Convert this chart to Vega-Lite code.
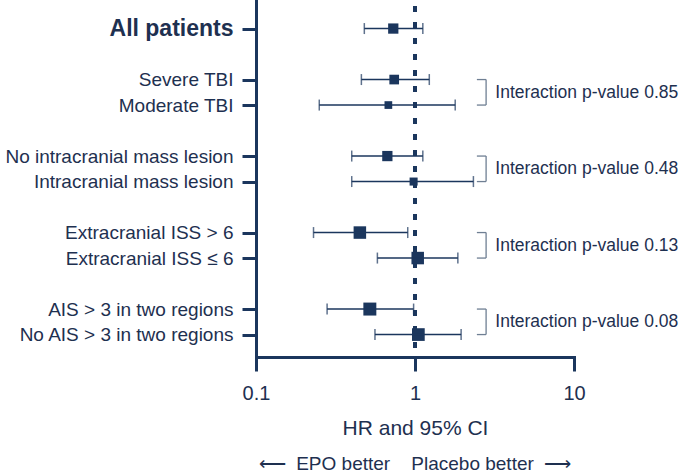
{
  "$schema": "https://vega.github.io/schema/vega-lite/v6.json",
  "width": 318,
  "height": 357,
  "autosize": {"type": "none"},
  "padding": {"left": 256, "top": 0, "right": 111, "bottom": 119},
  "background": "white",
  "config": {"view": {"stroke": null}, "font": "Liberation Sans"},
  "title": {
    "text": "⟵\u00a0\u00a0EPO better\u00a0\u00a0\u00a0\u00a0Placebo better\u00a0\u00a0⟶",
    "orient": "bottom",
    "anchor": "middle",
    "fontSize": 19,
    "fontWeight": "normal",
    "color": "#1e3050",
    "offset": 17
  },
  "datasets": {
    "rows": [
      {"label": "All patients", "hr": 0.73, "lo": 0.48, "hi": 1.12, "weight": 6.2},
      {"label": "Severe TBI", "hr": 0.74, "lo": 0.46, "hi": 1.23, "weight": 5.5},
      {"label": "Moderate TBI", "hr": 0.68, "lo": 0.25, "hi": 1.79, "weight": 3.5},
      {"label": "No intracranial mass lesion", "hr": 0.67, "lo": 0.40, "hi": 1.12, "weight": 6.2},
      {"label": "Intracranial mass lesion", "hr": 0.98, "lo": 0.40, "hi": 2.33, "weight": 3.8},
      {"label": "Extracranial ISS > 6", "hr": 0.45, "lo": 0.23, "hi": 0.90, "weight": 9.2},
      {"label": "Extracranial ISS ≤ 6", "hr": 1.04, "lo": 0.58, "hi": 1.86, "weight": 9.2},
      {"label": "AIS > 3 in two regions", "hr": 0.52, "lo": 0.28, "hi": 0.98, "weight": 9.9},
      {"label": "No AIS > 3 in two regions", "hr": 1.05, "lo": 0.56, "hi": 1.95, "weight": 9.5}
    ],
    "brackets": [
      {"top": "Severe TBI", "bottom": "Moderate TBI", "p": "Interaction p-value 0.85"},
      {"top": "No intracranial mass lesion", "bottom": "Intracranial mass lesion", "p": "Interaction p-value 0.48"},
      {"top": "Extracranial ISS > 6", "bottom": "Extracranial ISS ≤ 6", "p": "Interaction p-value 0.13"},
      {"top": "AIS > 3 in two regions", "bottom": "No AIS > 3 in two regions", "p": "Interaction p-value 0.08"}
    ]
  },
  "layer": [
    {
      "data": {"name": "rows"},
      "mark": {"type": "point", "shape": "square", "filled": true, "color": "#1b365d", "opacity": 1},
      "encoding": {
        "x": {
          "field": "hr",
          "type": "quantitative",
          "title": "HR and 95% CI",
          "scale": {"type": "log", "domain": [0.1, 10], "nice": false},
          "axis": {
            "values": [0.1, 1, 10],
            "format": "~g",
            "title": "HR and 95% CI",
            "grid": false,
            "domainColor": "#1b365d",
            "domainWidth": 3,
            "domainCap": "square",
            "tickColor": "#1b365d",
            "tickWidth": 3,
            "tickSize": 14,
            "labelFontSize": 20,
            "labelColor": "#1e3050",
            "labelPadding": 12,
            "labelFlush": false,
            "titleFontSize": 21,
            "titleFontWeight": "normal",
            "titleColor": "#1e3050",
            "titlePadding": 14
          }
        },
        "y": {
          "field": "label",
          "type": "nominal",
          "sort": null,
          "title": null,
          "scale": {
            "type": "point",
            "domain": ["All patients", "sp1", "Severe TBI", "Moderate TBI", "sp2", "No intracranial mass lesion", "Intracranial mass lesion", "sp3", "Extracranial ISS > 6", "Extracranial ISS ≤ 6", "sp4", "AIS > 3 in two regions", "No AIS > 3 in two regions"],
            "padding": 1.069,
            "align": 0.56
          },
          "axis": {
            "values": ["All patients", "Severe TBI", "Moderate TBI", "No intracranial mass lesion", "Intracranial mass lesion", "Extracranial ISS > 6", "Extracranial ISS ≤ 6", "AIS > 3 in two regions", "No AIS > 3 in two regions"],
            "grid": false,
            "domainColor": "#1b365d",
            "domainWidth": 3,
            "domainCap": "square",
            "tickColor": "#1b365d",
            "tickWidth": 3,
            "tickSize": 14,
            "labelPadding": 9,
            "labelLimit": 0,
            "labelColor": "#1e3050",
            "labelFontSize": {"condition": {"test": "datum.value === 'All patients'", "value": 23}, "value": 19},
            "labelFontWeight": {"condition": {"test": "datum.value === 'All patients'", "value": "bold"}, "value": "normal"}
          }
        },
        "size": {"field": "weight", "type": "quantitative", "scale": {"domain": [0, 10], "range": [0, 170]}, "legend": null}
      }
    },
    {
      "data": {"name": "rows"},
      "mark": {"type": "rule", "color": "#1b365d", "strokeWidth": 3, "strokeDash": [6, 10], "strokeDashOffset": 10},
      "encoding": {
        "x": {"datum": 1, "type": "quantitative", "title": "HR and 95% CI"}
      }
    },
    {
      "data": {"name": "rows"},
      "mark": {"type": "errorbar", "ticks": {"size": 11, "thickness": 1.5}, "thickness": 1.5, "color": "#1b365d"},
      "encoding": {
        "x": {"field": "lo", "type": "quantitative", "title": "HR and 95% CI"},
        "x2": {"field": "hi"},
        "y": {"field": "label", "type": "nominal", "title": null}
      }
    },
    {
      "data": {"name": "brackets"},
      "mark": {"type": "rule", "color": "#6f7f93", "strokeWidth": 1.3},
      "encoding": {
        "x": {"datum": 2.8, "type": "quantitative", "title": "HR and 95% CI"},
        "y": {"field": "top", "type": "nominal", "title": null},
        "y2": {"field": "bottom"}
      }
    },
    {
      "data": {"name": "brackets"},
      "mark": {"type": "rule", "color": "#6f7f93", "strokeWidth": 1.3},
      "encoding": {
        "x": {"datum": 2.45, "type": "quantitative", "title": "HR and 95% CI"},
        "x2": {"datum": 2.8},
        "y": {"field": "top", "type": "nominal", "title": null}
      }
    },
    {
      "data": {"name": "brackets"},
      "mark": {"type": "rule", "color": "#6f7f93", "strokeWidth": 1.3},
      "encoding": {
        "x": {"datum": 2.45, "type": "quantitative", "title": "HR and 95% CI"},
        "x2": {"datum": 2.8},
        "y": {"field": "bottom", "type": "nominal", "title": null}
      }
    },
    {
      "data": {"name": "brackets"},
      "mark": {"type": "text", "align": "left", "baseline": "middle", "dy": 13, "fontSize": 17.5, "color": "#1e3050"},
      "encoding": {
        "x": {"datum": 3.2, "type": "quantitative", "title": "HR and 95% CI"},
        "y": {"field": "top", "type": "nominal", "title": null},
        "text": {"field": "p"}
      }
    }
  ]
}
